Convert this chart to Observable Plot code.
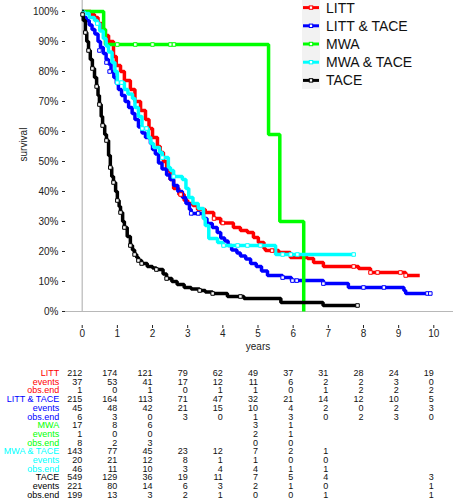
<!DOCTYPE html>
<html><head><meta charset="utf-8">
<script src="https://cdn.jsdelivr.net/npm/d3@7"></script>
<script src="https://cdn.jsdelivr.net/npm/@observablehq/plot@0.6"></script>
<style>
body{margin:0;background:#fff;font-family:"Liberation Sans",Arial,sans-serif;}
#wrap{position:relative;width:453px;height:500px;overflow:hidden;}
#wrap svg{display:block;}
#legend{position:absolute;left:302px;top:0;}
</style></head><body><div id="wrap"></div>
<script>
const groups = ["LITT", "LITT & TACE", "MWA", "MWA & TACE", "TACE"];
const colors = ["#ff0000", "#0000ff", "#00ff00", "#00ffff", "#000000"];
const years = [0,1,2,3,4,5,6,7,8,9,10];
const yTicks = [0,10,20,30,40,50,60,70,80,90,100];

// Kaplan-Meier step curves (years, survival %)
const littT = [0,0.25,0.35,0.45,0.55,0.66,0.75,0.89,0.97,1.09,1.2,1.37,1.5,1.66,1.8,1.9,2.0,2.14,2.22,2.31,2.4,2.5,2.6,2.75,2.9,3.0,3.15,3.28,3.5,3.74,3.94,4.3,4.5,4.7,4.87,5.01,5.17,5.21,5.59,5.92,6.41,6.58,6.86,7.86,8.2,9.2,9.6];
const littS = [100,99,98,96,94,92,90,85,82,80,77,74,70,67,64,61,58,55,53,50,47,44,41,39,37,36,35.3,34,33,31,29.5,28,27,26.3,24.7,23,21,20.3,19.7,18,17.7,16.3,15,14.3,13,12,12];
const littCT = [2.8,3.75,4.0,5.4,7.72,8.2,8.4,9.05,9.2];
const littCS = [39,31,29.5,20.3,15,13,13,13,12];

const lttT = [0,0.05,0.12,0.2,0.28,0.36,0.45,0.52,0.6,0.68,0.75,0.82,0.9,0.97,1.03,1.12,1.22,1.32,1.42,1.5,1.6,1.7,1.8,1.94,2.0,2.08,2.17,2.27,2.4,2.5,2.6,2.72,2.85,2.95,3.05,3.1,3.45,3.55,3.7,3.84,3.94,4.05,4.15,4.25,4.4,4.5,4.65,4.79,4.95,5.1,5.27,5.7,5.95,6.86,7.57,9.15,9.2,9.95];
const lttS = [100,98,97,95.5,94,92.5,90,88,86,84,82.5,80,78,76,74,72,70,68,66,64,61.5,59.5,58,56,54,52.5,49.5,47.5,45.5,44,42,40,38,36,34,32.7,31,29.3,28,26.3,24.5,23.5,22,20.5,19.5,18.5,17.5,16,15,13.5,12,11.3,10.3,9.3,8,7,6,6];
const lttCT = [0.49,0.69,0.78,3.1,3.3,5.7,5.98,6.1,6.86,8.0,8.58,9.82,9.9];
const lttCS = [87,83,80,32.7,32.7,11.3,10.3,10.3,9.3,8,8,6,6];

const mwaT = [0,0.61,0.66,5.3,5.62,6.3];
const mwaS = [100,94,89,59,30,0];
const mwaCT = [1.0,1.51,2.0,2.51,2.61];
const mwaCS = [89,89,89,89,89];

const mtT = [0,0.05,0.2,0.35,0.43,0.5,0.6,0.68,0.75,0.85,0.93,1.0,1.2,1.3,1.43,1.5,1.6,1.7,1.88,1.95,2.03,2.2,2.28,2.45,2.51,2.6,2.85,2.95,3.03,3.15,3.3,3.45,3.5,3.6,3.85,4.0,5.5,7.72];
const mtS = [100,99.3,98,97,96,93.5,91,88.5,86.5,83,80,76.3,74,72.5,71,68,65,61,58,56,54.7,53,51.3,48,47,45,44,41,38,36,34.3,31,28.7,24.3,23,22,19,19];
const mtCT = [0.05,0.43,1.0,1.12,1.71,1.83,2.28,2.6,4.02,4.42,4.7,5.07,5.7,5.93,6.12,7.72];
const mtCS = [99.3,96,76.3,76.3,61,61,51.3,45,22,22,22,22,19,19,19,19];

const taceT = [0,0.03,0.09,0.13,0.18,0.23,0.29,0.35,0.41,0.45,0.49,0.54,0.58,0.64,0.69,0.75,0.8,0.84,0.89,0.95,1.0,1.05,1.09,1.15,1.2,1.28,1.37,1.43,1.49,1.55,1.6,1.69,1.85,2.0,2.11,2.3,2.4,2.55,2.7,2.9,3.1,3.34,3.5,3.71,4.13,4.55,4.6,5.65,6.85,7.83];
const taceS = [100,97,93,90,87,84,81,78,75,72,69,65,62,59,57,52,48,45,43,40,37,35,33,30,28,25,22,20.5,19,18,17,16,15,14.5,14,12.5,11,10,9,8,7.5,7,6.5,6,5,5,4.3,3,2,2];
const taceCT = [0.01,0.09,0.18,0.29,0.41,0.49,0.58,0.69,0.8,0.89,1.0,1.09,1.2,1.37,1.49,1.6,1.69,2.11,2.4,3.34,3.71,4.5,7.83];
const taceCS = [99,93,87,81,75,69,62,57,48,43,37,33,28,22,19,17,16,14,11,7,6,5,2];

const curveT = [littT, lttT, mwaT, mtT, taceT];
const curveS = [littS, lttS, mwaS, mtS, taceS];
const censT = [littCT, lttCT, mwaCT, mtCT, taceCT];
const censS = [littCS, lttCS, mwaCS, mtCS, taceCS];

// numbers at risk table
const rowNames = ["events", "obs.end"];
const atRisk = [
  [212,174,121,79,62,49,37,31,28,24,19],
  [215,164,113,71,47,32,21,14,12,10,5],
  [17,8,6,null,null,3,1,null,null,null,null],
  [143,77,45,23,12,7,2,1,null,null,null],
  [549,129,36,19,11,7,5,4,null,null,3]
];
const events = [
  [37,53,41,17,12,11,6,2,2,3,0],
  [45,48,42,21,15,10,4,2,0,2,3],
  [1,0,0,null,null,2,1,null,null,null,null],
  [20,21,12,8,1,1,0,0,null,null,null],
  [221,80,14,6,3,2,1,0,null,null,1]
];
const obsEnd = [
  [1,0,1,0,1,1,0,1,2,2,2],
  [6,3,0,3,0,1,3,0,2,3,0],
  [8,2,3,null,null,0,0,null,null,null,null],
  [46,11,10,3,4,4,1,1,null,null,null],
  [199,13,3,2,1,0,0,1,null,null,1]
];

const xLabel = "years";
const yLabel = "survival";

// ---- build tables for Plot
const curves = [], cens = [];
groups.forEach((g, i) => {
  curveT[i].forEach((t, j) => curves.push({group: g, t, s: curveS[i][j]}));
  censT[i].forEach((t, j) => cens.push({group: g, t, s: censS[i][j]}));
});

const font = '"Liberation Sans", Arial, sans-serif';
const xDom = [-0.475, 10.56];
const yDom = [-4.67, 103.67];

const p1 = Plot.plot({
  width: 453, height: 360,
  marginLeft: 65, marginRight: 0, marginTop: 0, marginBottom: 35,
  style: {fontFamily: font, fontSize: "10px", color: "#222", background: "transparent", overflow: "visible"},
  x: {domain: xDom},
  y: {domain: yDom},
  color: {domain: groups, range: colors},
  marks: [
    Plot.ruleX([0], {y1: 0, y2: yDom[1], stroke: "#b8b8b8", strokeWidth: 1.2}),
    Plot.ruleY([0], {x1: xDom[0], x2: xDom[1], stroke: "#b8b8b8", strokeWidth: 1.2}),
    Plot.axisY({ticks: yTicks, tickFormat: d => d + "%", tickSize: 3, tickPadding: 4, label: null, fontSize: 10}),
    Plot.axisX({ticks: years, tickFormat: d => String(d), tickSize: 3, tickPadding: 1, label: null, fontSize: 10}),
    Plot.line(curves, {x: "t", y: "s", z: "group", stroke: "group", curve: "step-after", strokeWidth: 3.5, strokeLinejoin: "miter", strokeLinecap: "butt"}),
    Plot.dot(cens, {x: "t", y: "s", stroke: "group", fill: "white", symbol: "square", r: 2, strokeWidth: 1}),
    Plot.text([xLabel], {x: 5, frameAnchor: "bottom", dy: 24, text: d => d, fontSize: 10, fill: "#222"}),
    Plot.text([yLabel], {y: 50, frameAnchor: "left", dx: -41.5, rotate: -90, text: d => d, fontSize: 10, fill: "#222"})
  ]
});

// table
const cells = [], labels = [];
groups.forEach((g, i) => {
  const base = i * 3;
  labels.push({row: base, label: g, group: g});
  labels.push({row: base + 1, label: rowNames[0], group: g});
  labels.push({row: base + 2, label: rowNames[1], group: g});
  years.forEach((yr, k) => {
    if (atRisk[i][k] != null) cells.push({row: base, t: yr, v: atRisk[i][k]});
    if (events[i][k] != null) cells.push({row: base + 1, t: yr, v: events[i][k]});
    if (obsEnd[i][k] != null) cells.push({row: base + 2, t: yr, v: obsEnd[i][k]});
  });
});

const p2 = Plot.plot({
  width: 453, height: 140,
  marginLeft: 65, marginRight: 0, marginTop: 0, marginBottom: 0,
  style: {fontFamily: font, fontSize: "9px", background: "transparent", overflow: "visible"},
  x: {domain: xDom, axis: null},
  y: {domain: [0, 14], range: [12.7, 134.3], axis: null},
  color: {domain: groups, range: colors},
  marks: [
    Plot.text(cells, {x: "t", y: "row", text: d => String(d.v), textAnchor: "end", fontSize: 9, fill: "#111"}),
    Plot.text(labels, {y: "row", text: "label", frameAnchor: "left", dx: -6.3, textAnchor: "end", fontSize: 9, fill: "group"})
  ]
});

const wrap = document.getElementById("wrap");
wrap.appendChild(p1);
wrap.appendChild(p2);

// legend (top right, overlapping the plot)
const ns = "http://www.w3.org/2000/svg";
const lg = document.createElementNS(ns, "svg");
lg.setAttribute("id", "legend");
lg.setAttribute("width", 150);
lg.setAttribute("height", 92);
const bg = document.createElementNS(ns, "rect");
bg.setAttribute("x", 0); bg.setAttribute("y", 0);
bg.setAttribute("width", 18); bg.setAttribute("height", 89);
bg.setAttribute("fill", "#f2f2f2");
lg.appendChild(bg);
groups.forEach((g, i) => {
  const cy = 7.6 + i * 18.2;
  const ln = document.createElementNS(ns, "line");
  ln.setAttribute("x1", 1); ln.setAttribute("x2", 17);
  ln.setAttribute("y1", cy); ln.setAttribute("y2", cy);
  ln.setAttribute("stroke", colors[i]); ln.setAttribute("stroke-width", 3);
  lg.appendChild(ln);
  const sq = document.createElementNS(ns, "rect");
  sq.setAttribute("x", 7.3); sq.setAttribute("y", cy - 1.7);
  sq.setAttribute("width", 3.4); sq.setAttribute("height", 3.4);
  sq.setAttribute("fill", "white"); sq.setAttribute("stroke", colors[i]); sq.setAttribute("stroke-width", 1);
  lg.appendChild(sq);
  const tx = document.createElementNS(ns, "text");
  tx.setAttribute("x", 24); tx.setAttribute("y", cy + 5);
  tx.setAttribute("font-family", font);
  tx.setAttribute("font-size", 14);
  tx.setAttribute("fill", "#111");
  tx.textContent = g;
  lg.appendChild(tx);
});
wrap.appendChild(lg);
</script>
</body></html>
